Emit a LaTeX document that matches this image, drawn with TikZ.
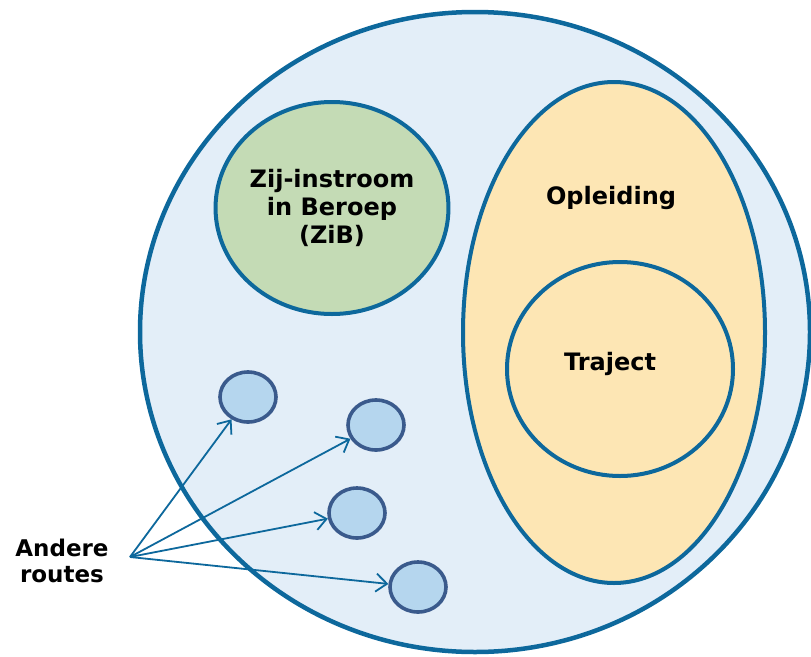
\documentclass[tikz,border=0pt]{standalone}
\usepackage{fontspec}
\setmainfont{DejaVu Sans}
\usetikzlibrary{shapes.geometric,arrows.meta}
\definecolor{edgeblue}{HTML}{0D689C}
\definecolor{bigfill}{HTML}{E3EEF8}
\definecolor{greenfill}{HTML}{C4DBB5}
\definecolor{yellowfill}{HTML}{FDE6B4}
\definecolor{smallfill}{HTML}{B5D6EE}
\definecolor{smalledge}{HTML}{3A5A8C}
\tikzset{
  oval/.style={ellipse, draw=edgeblue, line width=4pt, inner sep=0pt},
  smallcirc/.style={ellipse, draw=smalledge, fill=smallfill, line width=3.6pt,
    minimum width=56pt, minimum height=50pt, inner sep=0pt},
  lbl/.style={font=\fontsize{24}{28}\selectfont\bfseries, align=center, text=black},
  arr/.style={draw=edgeblue, line width=1.8pt,
    -{Straight Barb[length=11pt,width=18pt,line width=1.8pt]}}
}
\begin{document}
\begin{tikzpicture}[x=1pt,y=-1pt]
\useasboundingbox (0,0) rectangle (811,656);
% big oval
\node[oval, line width=4.5pt, fill=bigfill, minimum width=670pt, minimum height=640pt] (big) at (475,332) {};
% green circle
\node[oval, fill=greenfill, minimum width=228pt, minimum height=212pt, lbl] (zib) at (332,208)
  {Zij-instroom\\in Beroep\\(ZiB)};
% opleiding
\node[oval, fill=yellowfill, minimum width=302pt, minimum height=501pt] (opl) at (614,332.5) {};
\node[lbl] (opltext) at (611,198) {Opleiding};
% traject
\node[oval, fill=yellowfill, minimum width=226pt, minimum height=214pt] (traj) at (620,369) {};
\node[lbl] (trajtext) at (610,364) {Traject};
% small circles
\node[smallcirc] (c1) at (248,397) {};
\node[smallcirc] (c2) at (376,425) {};
\node[smallcirc] (c3) at (357,513) {};
\node[smallcirc] (c4) at (418,587) {};
% label
\node[lbl, font=\fontsize{23}{26}\selectfont\bfseries] (andere) at (62,561) {Andere\\routes};
\coordinate (src) at (130,557);
\draw[arr] (src) -- (c1);
\draw[arr] (src) -- (c2);
\draw[arr] (src) -- (c3);
\draw[arr] (src) -- (c4);
\end{tikzpicture}
\end{document}
